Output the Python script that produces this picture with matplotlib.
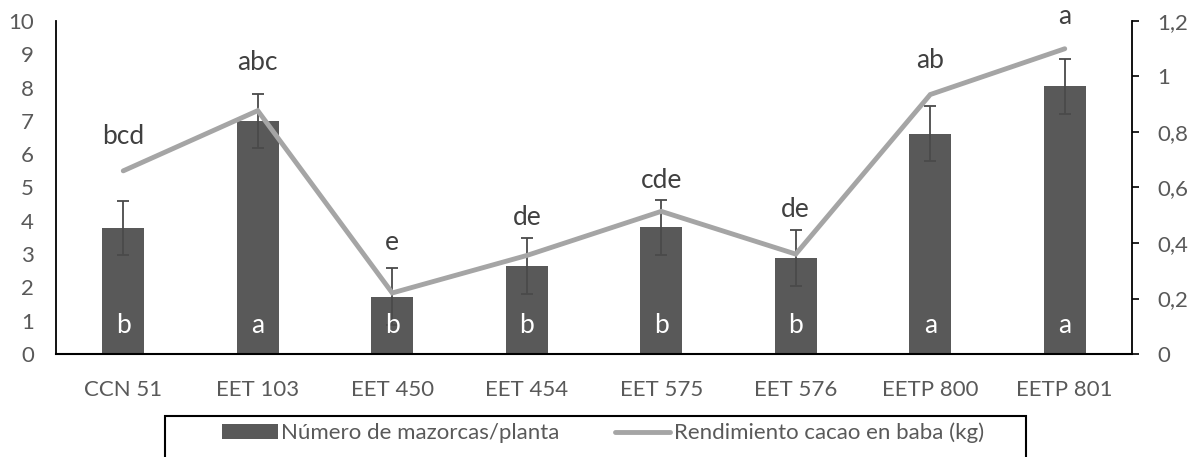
import matplotlib
matplotlib.use('Agg')
import matplotlib.pyplot as plt
import numpy as np
from matplotlib.ticker import FuncFormatter, MultipleLocator
from matplotlib.patches import Rectangle

plt.rcParams['font.family'] = ['Lato', 'DejaVu Sans']

clones = ['CCN 51', 'EET 103', 'EET 450', 'EET 454', 'EET 575', 'EET 576', 'EETP 800', 'EETP 801']
mazorcas = [3.78, 7.0, 1.72, 2.63, 3.80, 2.87, 6.62, 8.04]
mazorcas_err = [0.82, 0.80, 0.85, 0.84, 0.82, 0.84, 0.82, 0.83]
rendimiento = [0.66, 0.877, 0.22, 0.355, 0.514, 0.36, 0.935, 1.10]
letras_mazorcas = ['b', 'a', 'b', 'b', 'b', 'b', 'a', 'a']
letras_rend = ['bcd', 'abc', 'e', 'de', 'cde', 'de', 'ab', 'a']

# vertical gap (points) between line point and its letter
offsets_rend = [19, 29, 31, 22, 17, 27, 19, 18]

bar_color = '#595959'
line_color = '#a5a5a5'
txt_color = '#404040'
tick_color = '#595959'

fig = plt.figure(figsize=(11.88, 4.57), dpi=100)
ax = fig.add_axes([56 / 1188, 1 - 354 / 457, (1132 - 56) / 1188, (354 - 21) / 457])
ax2 = ax.twinx()

x = np.arange(len(clones))
bars = ax.bar(x, mazorcas, 0.31, color=bar_color, zorder=2,
              label='Número de mazorcas/planta')
ax.errorbar(x, mazorcas, yerr=mazorcas_err, fmt='none', ecolor='#4a4a4a',
            elinewidth=1.3, capsize=4.3, capthick=1.3, zorder=3)
for xi, l in zip(x, letras_mazorcas):
    ax.text(xi, 0.63, l, color='white', fontsize=19, ha='center', va='baseline', zorder=4)

line, = ax2.plot(x, rendimiento, color=line_color, lw=3.5, solid_capstyle='round',
                 solid_joinstyle='miter', label='Rendimiento cacao en baba (kg)')
for xi, v, l, off in zip(x, rendimiento, letras_rend, offsets_rend):
    ax2.annotate(l, (xi, v), xytext=(0, off), textcoords='offset points',
                 ha='center', va='baseline', fontsize=19, color=txt_color)

ax.set_xlim(-0.5, len(clones) - 0.5)
ax.set_ylim(0, 10)
ax2.set_ylim(0, 1.2)
ax.yaxis.set_major_locator(MultipleLocator(1))
ax2.yaxis.set_major_locator(MultipleLocator(0.2))
ax2.yaxis.set_major_formatter(FuncFormatter(lambda v, p: ('%g' % round(v, 2)).replace('.', ',')))

ax.set_xticks(x, clones)
ax.tick_params(axis='x', length=0, pad=19, labelsize=16, labelcolor=tick_color)
ax.tick_params(axis='y', length=0, pad=16, labelsize=16, labelcolor=tick_color)
ax2.tick_params(axis='y', length=5, width=1.2, pad=13, labelsize=16, labelcolor=tick_color,
                direction='out')

for a in (ax, ax2):
    a.spines['top'].set_visible(False)
ax.spines['right'].set_visible(False)
ax.spines['left'].set_linewidth(1.3)
ax.spines['bottom'].set_linewidth(1.5)
ax2.spines['left'].set_visible(False)
ax2.spines['bottom'].set_visible(False)
ax2.spines['right'].set_linewidth(1.3)

# legend box runs off the bottom edge like in the original
fig.patches.append(Rectangle((165 / 1188, -0.05), (1026 - 165) / 1188, 0.05 + (457 - 416) / 457,
                             transform=fig.transFigure, fill=False, edgecolor='black', lw=1.5))
leg = fig.legend([bars, line], ['Número de mazorcas/planta', 'Rendimiento cacao en baba (kg)'],
                 loc='center left', bbox_to_anchor=(222 / 1188, 1 - 433 / 457), ncol=2,
                 frameon=False, borderpad=0, borderaxespad=0, handlelength=2.5,
                 handletextpad=0.15, columnspacing=2.5, fontsize=16)
for t in leg.get_texts():
    t.set_color(tick_color)

fig.savefig('out.png', dpi=100)
